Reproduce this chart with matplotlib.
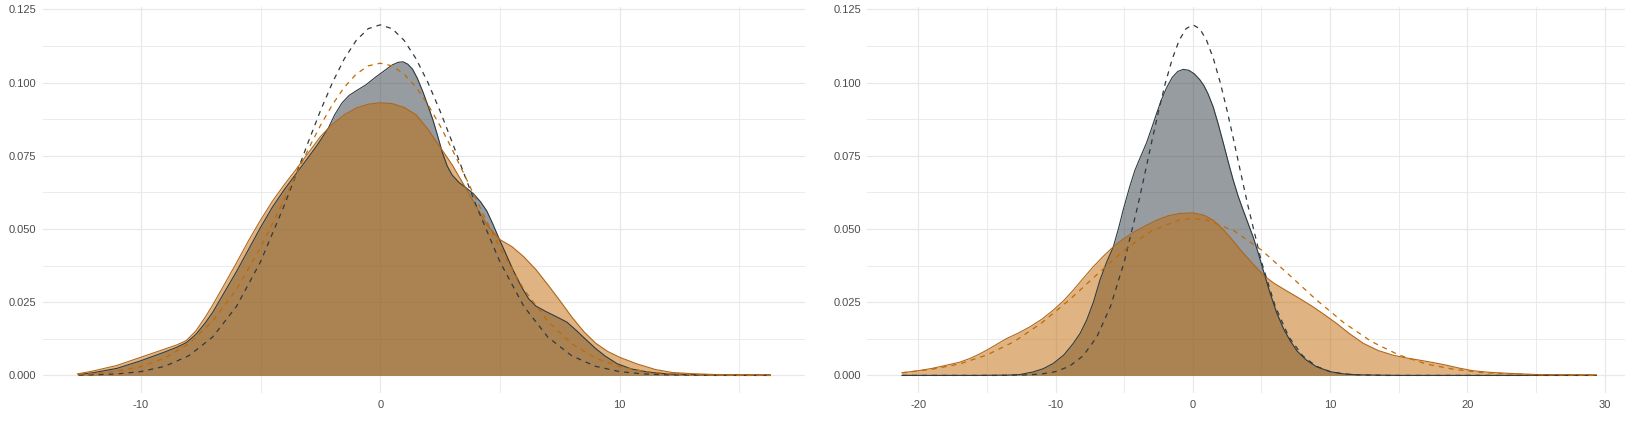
"""
Two density panels: kernel densities of two groups with matching normal curves (dashed).
"""

import matplotlib

matplotlib.use("Agg")
import matplotlib.pyplot as plt
from matplotlib.ticker import FixedLocator, FuncFormatter


# ---- left panel: density estimates ----
LEFT_GRAY_X = [-12.6, -12.0, -11.0, -10.0, -9.0, -8.5, -8.1, -7.7, -7.3, -7.0, -6.5, -6.0, -5.5,
               -5.0, -4.5, -4.0, -3.5, -3.0, -2.6, -2.17, -1.9, -1.6, -1.3, -1.0, -0.6, -0.2,
               0.2, 0.5, 0.75, 0.95, 1.15, 1.35, 1.55, 1.8, 2.0, 2.2, 2.4, 2.6, 2.8, 3.0, 3.3,
               3.6, 3.9, 4.2, 4.45, 4.7, 4.95, 5.25, 5.55, 5.9, 6.2, 6.5, 6.9, 7.3, 7.8, 8.2,
               8.6, 9.0, 9.4, 9.9, 10.5, 11.2, 12.0, 13.5, 16.3]
LEFT_GRAY_Y = [0.0003, 0.0009, 0.0024, 0.0050, 0.0080, 0.0096, 0.0112, 0.0140, 0.0180, 0.0215,
               0.0285, 0.0355, 0.0430, 0.0505, 0.0575, 0.0635, 0.0690, 0.0745, 0.0790, 0.0844,
               0.0890, 0.0930, 0.0956, 0.0972, 0.0992, 0.1018, 0.1042, 0.1060, 0.1069, 0.1071,
               0.1063, 0.1046, 0.1015, 0.0965, 0.0920, 0.0873, 0.0818, 0.0760, 0.0715, 0.0685,
               0.0658, 0.0640, 0.0620, 0.0592, 0.0562, 0.0518, 0.0470, 0.0415, 0.0360, 0.0303,
               0.0262, 0.0237, 0.0219, 0.0203, 0.0182, 0.0153, 0.0122, 0.0092, 0.0066, 0.0040,
               0.0022, 0.0011, 0.0005, 0.0002, 0.0001]

LEFT_ORANGE_X = [-12.65, -12.0, -11.0, -10.0, -9.0, -8.5, -8.1, -7.7, -7.3, -7.0, -6.5, -6.0,
                 -5.5, -5.0, -4.5, -4.0, -3.5, -3.0, -2.5, -2.0, -1.5, -1.0, -0.5, 0.0, 0.5, 1.0,
                 1.5, 2.0, 2.5, 3.0, 3.5, 4.0, 4.5, 5.0, 5.5, 6.0, 6.5, 7.0, 7.5, 8.0, 8.5, 9.0,
                 9.5, 10.0, 10.7, 11.5, 12.2, 13.0, 14.0, 16.3]
LEFT_ORANGE_Y = [0.0005, 0.0015, 0.0034, 0.0062, 0.0090, 0.0104, 0.0119, 0.0152, 0.0200, 0.0240,
                 0.0312, 0.0385, 0.0460, 0.0530, 0.0595, 0.0652, 0.0705, 0.0760, 0.0815, 0.0858,
                 0.0890, 0.0913, 0.0926, 0.0931, 0.0928, 0.0915, 0.0890, 0.0840, 0.0780, 0.0720,
                 0.0650, 0.0580, 0.0510, 0.0464, 0.0440, 0.0405, 0.0362, 0.0310, 0.0256, 0.0200,
                 0.0150, 0.0110, 0.0082, 0.0062, 0.0040, 0.0020, 0.0010, 0.0006, 0.0003, 0.0002]

LEFT_NORM_X = [-12.6, -12, -11, -10, -9, -8, -7, -6, -5, -4, -3.5, -3, -2.5, -2, -1.5, -1, -0.5,
               0, 0.5, 1, 1.5, 2, 2.5, 3, 3.5, 4, 5, 6, 7, 8, 9, 10, 11, 12, 13, 14, 15, 16, 16.3]
LEFT_NORM_GRAY = [0.0001, 0.0002, 0.0005, 0.0013, 0.0031, 0.0067, 0.0131, 0.0236, 0.0388, 0.0582,
                  0.0689, 0.0798, 0.0903, 0.0999, 0.1081, 0.1144, 0.1184, 0.1197, 0.1184, 0.1144,
                  0.1081, 0.0999, 0.0903, 0.0798, 0.0689, 0.0582, 0.0388, 0.0236, 0.0131, 0.0067,
                  0.0031, 0.0013, 0.0005, 0.0002, 0.0001, 0.0, 0.0, 0.0, 0.0]
LEFT_NORM_ORANGE = [0.0004, 0.0006, 0.0014, 0.0030, 0.0059, 0.0108, 0.0185, 0.0294, 0.0436, 0.0602,
                    0.0688, 0.0773, 0.0853, 0.0924, 0.0984, 0.1029, 0.1057, 0.1066, 0.1057, 0.1029,
                    0.0984, 0.0924, 0.0853, 0.0773, 0.0688, 0.0602, 0.0436, 0.0294, 0.0185, 0.0108,
                    0.0059, 0.0030, 0.0014, 0.0006, 0.0003, 0.0001, 0.0, 0.0, 0.0]

# ---- right panel ----
RIGHT_GRAY_X = [-21.2, -16.0, -13.5, -12.6, -11.63, -10.9, -10.17, -9.4, -8.72, -8.2, -7.74,
                -7.25, -6.77, -6.3, -5.8, -5.4, -5.08, -4.6, -4.22, -3.8, -3.37, -3.0, -2.64,
                -2.3, -1.92, -1.5, -1.1, -0.7, -0.3, 0.1, 0.5, 0.8, 1.1, 1.48, 1.85, 2.21, 2.6,
                2.94, 3.3, 3.66, 4.0, 4.39, 4.75, 5.12, 5.6, 6.1, 6.6, 7.07, 7.6, 8.28, 9.0, 9.98,
                11.0, 12.0, 15.0, 29.4]
RIGHT_GRAY_Y = [0.0, 0.0, 0.0001, 0.0003, 0.0012, 0.0023, 0.0041, 0.0070, 0.0109, 0.0145, 0.0189,
                0.0250, 0.0326, 0.0385, 0.0439, 0.0505, 0.0565, 0.0645, 0.0701, 0.0748, 0.0795,
                0.0845, 0.0895, 0.0940, 0.0982, 0.1018, 0.1038, 0.1045, 0.1042, 0.1030, 0.1010,
                0.0990, 0.0962, 0.0917, 0.0858, 0.0795, 0.0725, 0.0667, 0.0612, 0.0565, 0.0522,
                0.0473, 0.0420, 0.0360, 0.0285, 0.0215, 0.0160, 0.0120, 0.0083, 0.0052, 0.0030,
                0.0013, 0.0005, 0.0002, 0.0, 0.0]

RIGHT_ORANGE_X = [-21.2, -20.0, -19.0, -17.94, -17.0, -16.24, -15.6, -15.03, -14.3, -13.57, -12.7,
                  -11.87, -11.0, -10.17, -9.4, -8.72, -8.0, -7.26, -6.5, -5.8, -5.1, -4.35, -3.5,
                  -2.64, -1.8, -0.95, 0.0, 0.8, 1.48, 2.1, 2.69, 3.5, 4.39, 5.12, 5.9, 6.82, 7.8,
                  8.76, 9.6, 10.46, 11.4, 12.4, 13.5, 14.59, 15.5, 16.53, 17.5, 18.47, 19.4, 20.4,
                  21.5, 22.6, 25.0, 29.4]
RIGHT_ORANGE_Y = [0.0009, 0.0016, 0.0024, 0.0035, 0.0045, 0.0058, 0.0072, 0.0086, 0.0106, 0.0126,
                  0.0145, 0.0166, 0.0192, 0.0223, 0.0256, 0.0291, 0.0331, 0.0371, 0.0408, 0.0439,
                  0.0465, 0.0488, 0.0510, 0.0530, 0.0545, 0.0553, 0.0555, 0.0547, 0.0530, 0.0503,
                  0.0473, 0.0427, 0.0380, 0.0343, 0.0315, 0.0289, 0.0262, 0.0234, 0.0207, 0.0178,
                  0.0143, 0.0110, 0.0085, 0.0069, 0.0060, 0.0052, 0.0044, 0.0035, 0.0025, 0.0016,
                  0.0011, 0.0008, 0.0003, 0.0002]

RIGHT_NORM_GRAY_X = [-21.2, -15, -14, -13, -12, -11, -10, -9, -8, -7, -6, -5, -4, -3.5, -3, -2.5,
                     -2, -1.5, -1, -0.5, 0, 0.5, 1, 1.5, 2, 2.5, 3, 3.5, 4, 5, 6, 7, 8, 9, 10, 11,
                     12, 13, 14, 15, 29.4]
RIGHT_NORM_GRAY = [0.0, 0.0, 0.0, 0.0001, 0.0002, 0.0005, 0.0013, 0.0031, 0.0067, 0.0131, 0.0236,
                   0.0388, 0.0582, 0.0689, 0.0798, 0.0903, 0.0999, 0.1081, 0.1144, 0.1184, 0.1197,
                   0.1184, 0.1144, 0.1081, 0.0999, 0.0903, 0.0798, 0.0689, 0.0582, 0.0388, 0.0236,
                   0.0131, 0.0067, 0.0031, 0.0013, 0.0005, 0.0002, 0.0001, 0.0, 0.0, 0.0]
RIGHT_NORM_ORANGE_X = [-21.2, -19, -17, -15, -13, -11, -9, -7, -5, -3, -1, 0, 1, 3, 5, 7, 9, 11,
                       13, 15, 17, 19, 21, 23, 25, 27, 29, 29.4]
RIGHT_NORM_ORANGE = [0.0009, 0.0021, 0.0039, 0.0070, 0.0116, 0.0180, 0.0258, 0.0344, 0.0428,
                     0.0494, 0.0531, 0.0536, 0.0531, 0.0494, 0.0428, 0.0344, 0.0258, 0.0180,
                     0.0116, 0.0070, 0.0039, 0.0021, 0.0010, 0.0005, 0.0002, 0.0001, 0.0, 0.0]

Y_TICKS = [0.0, 0.025, 0.05, 0.075, 0.1, 0.125]
LEFT_X_TICKS = [-10, 0, 10]
RIGHT_X_TICKS = [-20, -10, 0, 10, 20, 30]

GRAY = "#2F3B41"
ORANGE = "#C16A06"
ORANGE_EDGE = "#B0661A"
GRID = "#E8E8E8"
TEXT = "#4D4D4D"

plt.rcParams["font.family"] = ["Liberation Sans", "DejaVu Sans"]


def expanded(lo, hi, frac=0.05):
    pad = (hi - lo) * frac
    return lo - pad, hi + pad


def draw_panel(ax, gray, orange, norm_gray, norm_orange, x_ticks):
    gx, gy = gray
    ox, oy = orange

    ax.fill_between(gx, 0, gy, color=GRAY, alpha=0.5, linewidth=0)
    ax.plot(gx, gy, color=GRAY, lw=0.8, solid_joinstyle="round")
    ax.fill_between(ox, 0, oy, color=ORANGE, alpha=0.5, linewidth=0)
    ax.plot(ox, oy, color=ORANGE_EDGE, lw=0.8, solid_joinstyle="round")

    ax.plot(*norm_gray, color=GRAY, lw=0.9, dashes=(4, 4))
    ax.plot(*norm_orange, color=ORANGE, lw=0.9, dashes=(4, 4))

    xs = list(gx) + list(ox)
    ys = list(gy) + list(oy) + list(norm_gray[1]) + list(norm_orange[1])
    ax.set_xlim(*expanded(min(xs), max(xs)))
    ax.set_ylim(*expanded(0, max(ys)))

    # major ticks on the labels, minor grid halfway between
    step = x_ticks[1] - x_ticks[0]
    minor_x = [t + step / 2 for t in [x_ticks[0] - step] + x_ticks]
    ax.xaxis.set_major_locator(FixedLocator(x_ticks))
    ax.xaxis.set_minor_locator(FixedLocator(minor_x))
    ax.yaxis.set_major_locator(FixedLocator(Y_TICKS))
    ax.yaxis.set_minor_locator(FixedLocator([t + 0.0125 for t in Y_TICKS]))
    ax.yaxis.set_major_formatter(FuncFormatter(lambda v, _p: f"{v:.3f}"))
    ax.xaxis.set_major_formatter(FuncFormatter(lambda v, _p: f"{v:.0f}"))

    ax.grid(which="major", color=GRID, lw=0.9)
    ax.grid(which="minor", color=GRID, lw=0.6)
    ax.set_axisbelow(True)
    for s in ax.spines.values():
        s.set_visible(False)
    ax.tick_params(which="both", length=0, labelsize=8, labelcolor=TEXT)
    ax.tick_params(axis="y", pad=4.5)
    ax.tick_params(axis="x", pad=5)


fig = plt.figure(figsize=(16.25, 4.42), dpi=100)
ax_left = fig.add_axes([0.0263, 0.111, 0.4691, 0.8724])
ax_right = fig.add_axes([0.5337, 0.111, 0.4700, 0.8724])

draw_panel(ax_left, (LEFT_GRAY_X, LEFT_GRAY_Y), (LEFT_ORANGE_X, LEFT_ORANGE_Y),
           (LEFT_NORM_X, LEFT_NORM_GRAY), (LEFT_NORM_X, LEFT_NORM_ORANGE), LEFT_X_TICKS)
draw_panel(ax_right, (RIGHT_GRAY_X, RIGHT_GRAY_Y), (RIGHT_ORANGE_X, RIGHT_ORANGE_Y),
           (RIGHT_NORM_GRAY_X, RIGHT_NORM_GRAY), (RIGHT_NORM_ORANGE_X, RIGHT_NORM_ORANGE),
           RIGHT_X_TICKS)

fig.savefig("out.png", dpi=100)
plt.close(fig)
